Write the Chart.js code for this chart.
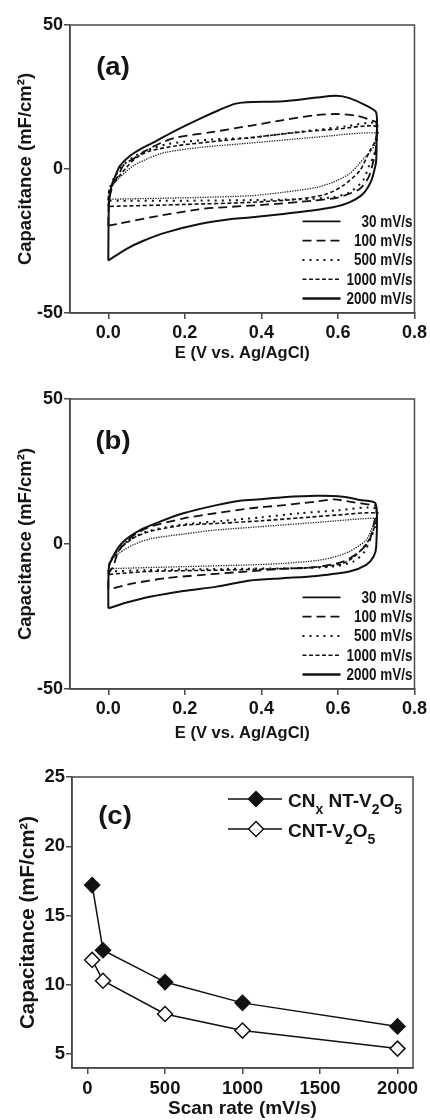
<!DOCTYPE html>
<html>
<head>
<meta charset="utf-8">
<script src="https://cdn.jsdelivr.net/npm/chart.js@4.4.0/dist/chart.umd.min.js"></script>
<style>
  html, body { margin: 0; padding: 0; background: #fff; }
  body { width: 430px; height: 1120px; position: relative; overflow: hidden; }
  canvas { position: absolute; left: 0; }
</style>
</head>
<body>
<canvas id="chartA" width="430" height="365" style="top:0px"></canvas>
<canvas id="chartB" width="430" height="375" style="top:370px"></canvas>
<canvas id="chartC" width="430" height="375" style="top:745px"></canvas>
<script>
// ---- data ----
const cvRates = ['30 mV/s', '100 mV/s', '500 mV/s', '1000 mV/s', '2000 mV/s'];
const cvXTicks = [0, 0.2, 0.4, 0.6, 0.8];
const cvYTicks = [-50, 0, 50];

// panel (a): [E, capacitance] along the loop (forward sweep, then reverse)
const cvA30 = [[0,-31.8],[0.002,-11],[0.008,-6],[0.017,-2.9],[0.03,1],[0.057,4.6],[0.092,7.5],[0.126,9.8],[0.178,13.5],[0.24,17.5],[0.29,20.5],[0.33,22.6],[0.361,23.2],[0.457,23.5],[0.544,24.8],[0.596,25.4],[0.63,24.6],[0.674,22],[0.7,19.6],
  [0.701,10],[0.7,3],[0.697,0.6],[0.687,-4.1],[0.665,-8.7],[0.63,-11.6],[0.587,-13.3],[0.526,-14.5],[0.457,-15.6],[0.37,-16.8],[0.326,-17.3],[0.239,-19.1],[0.152,-22],[0.092,-24.9],[0.048,-27.7],[0,-31.8]];
const cvA100 = [[0,-19.7],[0.002,-11],[0.013,-5.2],[0.026,-2.3],[0.04,1.3],[0.065,3.5],[0.1,6.5],[0.14,9.2],[0.18,11],[0.265,12.7],[0.37,15],[0.457,17],[0.544,18.7],[0.596,19.1],[0.648,18.5],[0.69,16.8],[0.7,16.2],
  [0.7,8],[0.695,4],[0.68,-2.9],[0.656,-7],[0.6,-9.9],[0.533,-11],[0.41,-12.4],[0.3,-13.3],[0.236,-14],[0.11,-16.8],[0.03,-18.9],[0,-19.7]];
const cvA500 = [[0,-11],[0.005,-6],[0.02,-2],[0.04,1.5],[0.07,4.5],[0.1,6.5],[0.15,8.5],[0.2,9.5],[0.3,10.5],[0.37,10.8],[0.46,12.3],[0.54,13.5],[0.62,14.8],[0.7,15.8],
  [0.7,8],[0.692,4],[0.683,1.7],[0.665,-4.1],[0.63,-8.1],[0.587,-9.8],[0.5,-10.5],[0.37,-10.8],[0.2,-11],[0,-11]];
const cvA1000 = [[0,-13],[0.002,-7.5],[0.02,-4],[0.048,0.6],[0.074,4],[0.11,6.3],[0.18,8.1],[0.3,9.9],[0.4,11.3],[0.5,12.8],[0.6,13.9],[0.7,14.8],
  [0.698,10],[0.683,6.3],[0.657,-0.6],[0.613,-5.8],[0.57,-8.7],[0.5,-10.4],[0.37,-11.6],[0.2,-12.3],[0,-13]];
const cvA2000 = [[0,-10.5],[0.01,-6],[0.03,-2.9],[0.065,1.1],[0.11,4],[0.15,5.8],[0.24,7.5],[0.37,9],[0.54,11],[0.7,12.5],
  [0.698,9],[0.685,6],[0.674,4.6],[0.65,1],[0.63,-1.7],[0.587,-4.6],[0.544,-6.4],[0.457,-8.1],[0.37,-9.3],[0.2,-10],[0,-10.5]];

// panel (b)
const cvB30 = [[0,-22.2],[0.002,-7.8],[0.017,-3.2],[0.039,0.8],[0.083,4.8],[0.135,7.7],[0.196,10.6],[0.283,13.4],[0.344,14.9],[0.396,15.4],[0.457,16.1],[0.544,16.6],[0.613,16.3],[0.657,15.2],[0.698,14],
  [0.7,-0.9],[0.693,-4.4],[0.674,-7.2],[0.63,-9.5],[0.544,-11],[0.457,-11.8],[0.37,-12.6],[0.283,-14.7],[0.196,-16.2],[0.109,-18.2],[0.048,-20.2],[0,-22.2]];
const cvB100 = [[0,-15.7],[0.002,-10],[0.013,-7.8],[0.026,-2.6],[0.048,0.8],[0.074,3.7],[0.11,6],[0.2,8.9],[0.28,10.6],[0.37,12.3],[0.46,13.4],[0.54,14.6],[0.59,15.4],[0.63,14.6],[0.69,13.4],[0.7,13],
  [0.7,10],[0.696,8.3],[0.683,1.4],[0.657,-2.6],[0.613,-6.1],[0.54,-8],[0.45,-8.6],[0.36,-9.5],[0.24,-10.7],[0.15,-11.8],[0.065,-13.6],[0,-15.7]];
const cvB500 = [[0,-9.5],[0.005,-6],[0.02,-3],[0.04,0],[0.07,2.5],[0.1,4.3],[0.15,5.8],[0.2,6.8],[0.3,8],[0.4,9.2],[0.5,10.6],[0.6,11.6],[0.7,12.3],
  [0.698,6],[0.687,2.5],[0.67,-2.6],[0.64,-6.1],[0.587,-7.8],[0.5,-8.3],[0.3,-8.6],[0.1,-9],[0,-9.5]];
const cvB1000 = [[0,-10.5],[0.003,-7],[0.02,-3.5],[0.04,-0.5],[0.065,2],[0.1,4],[0.15,5.5],[0.2,6.5],[0.3,7.2],[0.4,8],[0.5,9],[0.6,10],[0.7,10.6],
  [0.698,7],[0.69,4],[0.678,0.8],[0.648,-3.8],[0.613,-6.7],[0.544,-8],[0.45,-8.5],[0.3,-9],[0.1,-9.5],[0,-10.5]];
const cvB2000 = [[0,-8.5],[0.005,-6],[0.03,-3],[0.065,-0.3],[0.11,1.8],[0.2,3.5],[0.28,4.8],[0.4,6],[0.55,7.5],[0.7,8.9],
  [0.698,7.5],[0.691,6],[0.674,1.4],[0.63,-2.6],[0.587,-4.6],[0.544,-5.7],[0.457,-6.7],[0.37,-7.2],[0.2,-7.8],[0,-8.5]];

// panel (c)
const scanRates = [30, 100, 500, 1000, 2000];
const capCNx = [17.2, 12.5, 10.2, 8.7, 7.0];
const capCNT = [11.8, 10.3, 7.9, 6.7, 5.4];
const rateTicks = [0, 500, 1000, 1500, 2000];
const capTicks = [5, 10, 15, 20, 25];
const seriesC = [
  [['CN', 0], ['x', 1], [' NT-V', 0], ['2', 1], ['O', 0], ['5', 1]],
  [['CNT-V', 0], ['2', 1], ['O', 0], ['5', 1]]
];

// ---- styles ----
const axisColor = '#4a4a4a';
const textColor = '#141414';
const FONT = "'Liberation Sans', Arial, sans-serif";
const cvStyles = [
  { color: '#111', width: 2, dash: [] },
  { color: '#111', width: 1.8, dash: [9, 5] },
  { color: '#111', width: 2, dash: [2, 5] },
  { color: '#111', width: 1.6, dash: [4, 2.5] },
  { color: '#222', width: 1.3, dash: [1.3, 1.2] }
];
const cvLegendStyles = [
  { width: 1.8, dash: [] },
  { width: 1.8, dash: [9, 5] },
  { width: 2, dash: [2, 5] },
  { width: 1.6, dash: [4, 2.5] },
  { width: 2.6, dash: [] }
];

const frame = {
  id: 'frame',
  afterDraw(chart) {
    const { ctx, chartArea: a } = chart;
    ctx.save();
    ctx.strokeStyle = axisColor;
    ctx.lineWidth = 1.5;
    ctx.strokeRect(a.left, a.top, a.right - a.left, a.bottom - a.top);
    ctx.restore();
  }
};

const panelTag = {
  id: 'panelTag',
  afterDraw(chart, args, opts) {
    const { ctx, chartArea: a } = chart;
    ctx.save();
    ctx.translate(a.left + opts.dx, a.top + opts.dy);
    ctx.scale(1.1, 1.0);
    ctx.font = 'bold 25px ' + FONT;
    ctx.fillStyle = textColor;
    ctx.textAlign = 'center';
    ctx.textBaseline = 'middle';
    ctx.fillText(opts.text, 0, 0);
    ctx.restore();
  }
};

const cvLegend = {
  id: 'cvLegend',
  afterDraw(chart) {
    const { ctx, chartArea: a } = chart;
    const n = cvRates.length;
    ctx.save();
    for (let i = 0; i < n; i++) {
      const y = a.bottom - 14.5 - (n - 1 - i) * 19.3;
      ctx.strokeStyle = '#111';
      ctx.lineWidth = cvLegendStyles[i].width;
      ctx.setLineDash(cvLegendStyles[i].dash);
      ctx.beginPath();
      ctx.moveTo(a.right - 112, y);
      ctx.lineTo(a.right - 74, y);
      ctx.stroke();
      // slightly tall lettering, as in the figure
      ctx.save();
      ctx.translate(a.right - 2, y + 1);
      ctx.scale(1, 1.2);
      ctx.font = 'bold 13.5px ' + FONT;
      ctx.fillStyle = textColor;
      ctx.textAlign = 'right';
      ctx.textBaseline = 'middle';
      ctx.fillText(cvRates[i], 0, 0);
      ctx.restore();
    }
    ctx.restore();
  }
};

const capLegend = {
  id: 'capLegend',
  afterDraw(chart) {
    const { ctx, chartArea: a } = chart;
    ctx.save();
    chart.data.datasets.forEach((ds, i) => {
      const y = a.top + 22 + i * 30;
      ctx.strokeStyle = '#111';
      ctx.lineWidth = 1.5;
      ctx.beginPath();
      ctx.moveTo(a.right - 185, y);
      ctx.lineTo(a.right - 131, y);
      ctx.stroke();
      const cx = a.right - 157, r = 7.5;
      ctx.beginPath();
      ctx.moveTo(cx, y - r); ctx.lineTo(cx + r, y); ctx.lineTo(cx, y + r); ctx.lineTo(cx - r, y); ctx.closePath();
      ctx.fillStyle = ds.pointBackgroundColor;
      ctx.fill();
      ctx.stroke();
      let x = a.right - 125;
      ctx.fillStyle = textColor;
      ctx.textBaseline = 'alphabetic';
      ctx.textAlign = 'left';
      seriesC[i].forEach(([t, sub]) => {
        ctx.font = 'bold ' + (sub ? '14px ' : '19px ') + FONT;
        ctx.fillText(t, x, y + (sub ? 15 : 7.5));
        x += ctx.measureText(t).width;
      });
    });
    ctx.restore();
  }
};

function axisBase(tickVals, size, fmt, pad, fit, horiz) {
  return {
    type: 'linear',
    afterBuildTicks: s => { s.ticks = tickVals.map(v => ({ value: v })); },
    afterFit: s => { if (horiz) s.height = fit; else s.width = fit; },
    ticks: { callback: fmt, autoSkip: false, maxRotation: 0, padding: pad, color: textColor, font: { family: FONT, size: size, weight: 'bold' } },
    grid: { drawOnChartArea: false, drawTicks: true, tickLength: 6, color: axisColor, lineWidth: 1.5 },
    border: { display: true, color: axisColor, width: 1.5 }
  };
}

function buildCv(id, curves, tag, top, xh) {
  const datasets = curves.map((pts, i) => ({
    label: cvRates[i],
    data: pts.map(p => ({ x: p[0], y: p[1] })),
    showLine: true,
    fill: false,
    borderColor: cvStyles[i].color,
    borderWidth: cvStyles[i].width,
    borderDash: cvStyles[i].dash,
    pointRadius: 0,
    tension: 0.25
  }));
  const x = axisBase(cvXTicks, 18, v => v.toFixed(1), 3, xh, true);
  x.min = -0.1; x.max = 0.8;
  x.title = { display: true, text: 'E (V vs. Ag/AgCl)', color: textColor, font: { family: FONT, size: 16.5, weight: 'bold' }, padding: { top: 0, bottom: 2 } };
  const y = axisBase(cvYTicks, 18, v => String(v), 1, 70, false);
  y.min = -50; y.max = 50;
  y.title = { display: true, text: 'Capacitance (mF/cm²)', color: textColor, font: { family: FONT, size: 18.5, weight: 'bold' }, padding: { top: 15, bottom: 0 } };
  return new Chart(document.getElementById(id), {
    type: 'scatter',
    data: { datasets },
    options: {
      responsive: false,
      animation: false,
      layout: { padding: { left: 0, top: top, right: 15, bottom: 0 } },
      scales: { x, y },
      plugins: { legend: { display: false }, tooltip: { enabled: false }, panelTag: { text: tag, dx: 43, dy: 43 } }
    },
    plugins: [frame, panelTag, cvLegend]
  });
}

buildCv('chartA', [cvA30, cvA100, cvA500, cvA1000, cvA2000], '(a)', 25, 52);
buildCv('chartB', [cvB30, cvB100, cvB500, cvB1000, cvB2000], '(b)', 29, 56);

(function () {
  const x = axisBase(rateTicks, 18.5, v => String(v), 4, 52, true);
  x.min = -100; x.max = 2100;
  x.title = { display: true, text: 'Scan rate (mV/s)', color: textColor, font: { family: FONT, size: 19, weight: 'bold' }, padding: { top: 0, bottom: 0 } };
  const y = axisBase(capTicks, 18.5, v => String(v), 1, 72, false);
  y.min = 4; y.max = 25;
  y.title = { display: true, text: 'Capacitance (mF/cm²)', color: textColor, font: { family: FONT, size: 20.5, weight: 'bold' }, padding: { top: 16, bottom: 0 } };
  const mk = (vals, fillCol) => ({
    data: scanRates.map((r, i) => ({ x: r, y: vals[i] })),
    showLine: true,
    borderColor: '#111',
    borderWidth: 1.5,
    pointStyle: 'rectRot',
    pointRadius: 7.5,
    pointBackgroundColor: fillCol,
    pointBorderColor: '#111',
    pointBorderWidth: 1.5,
    tension: 0
  });
  new Chart(document.getElementById('chartC'), {
    type: 'scatter',
    data: { datasets: [
      Object.assign(mk(capCNx, '#111'), { label: 'CNx NT-V2O5' }),
      Object.assign(mk(capCNT, '#fff'), { label: 'CNT-V2O5' })
    ] },
    options: {
      responsive: false,
      animation: false,
      layout: { padding: { left: 0, top: 32, right: 17, bottom: 0 } },
      scales: { x, y },
      plugins: { legend: { display: false }, tooltip: { enabled: false }, panelTag: { text: '(c)', dx: 43, dy: 40 } }
    },
    plugins: [frame, panelTag, capLegend]
  });
})();
</script>
</body>
</html>
